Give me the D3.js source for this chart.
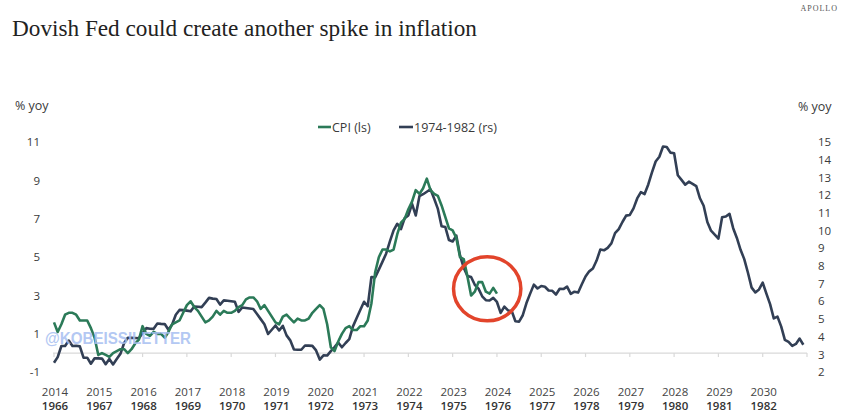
<!DOCTYPE html>
<html><head><meta charset="utf-8">
<script src="https://cdn.jsdelivr.net/npm/d3@7"></script>
<style>body{margin:0;background:#fff}svg{display:block}</style>
</head><body><svg id="c" width="848" height="419"></svg>
<script>
// ---- data ----
const title = "Dovish Fed could create another spike in inflation";
const brand = "APOLLO";
const cpiLabel = "CPI (ls)";
const rsLabel = "1974-1982 (rs)";
const axisUnit = "% yoy";
const watermark = "@KOBEISSILETTER";

// CPI yoy %, monthly from Jan 2014
const cpiStartYear = 2014;
const cpiValues = [
 1.6,1.1,1.5,2.0,2.1,2.1,2.0,1.7,1.7,1.7,1.3,0.8,
 -0.1,0.0,-0.1,-0.2,0.0,0.1,0.2,0.2,0.0,0.2,0.5,0.7,
 1.4,1.0,0.9,1.1,1.0,1.0,0.8,1.1,1.5,1.6,1.7,2.1,
 2.5,2.7,2.4,2.2,1.9,1.6,1.7,1.9,2.2,2.0,2.2,2.1,
 2.1,2.2,2.4,2.5,2.8,2.9,2.9,2.7,2.3,2.5,2.2,1.9,
 1.6,1.5,1.9,2.0,1.8,1.6,1.8,1.7,1.7,1.8,2.1,2.3,
 2.5,2.3,1.5,0.3,0.1,0.6,1.0,1.3,1.4,1.2,1.2,1.4,
 1.4,1.7,2.6,4.2,5.0,5.4,5.4,5.3,5.4,6.2,6.8,7.0,
 7.5,7.9,8.5,8.3,8.6,9.1,8.5,8.3,8.2,7.7,7.1,6.5,
 6.4,6.0,5.0,4.9,4.0,3.0,3.2,3.7,3.7,3.2,3.1,3.4,
 3.1
];
// 1966-1982 CPI yoy %, monthly from Jun 1966, plotted from Jan 2014
const rsStartYear = 2014;
const rsValues = [
 2.53,2.85,3.48,3.48,3.79,3.48,3.49,
 3.46,2.82,2.82,2.48,2.79,2.78,2.77,2.45,2.75,2.44,2.74,3.04,
 3.65,3.95,3.94,3.93,3.92,4.20,4.49,4.46,4.45,4.75,4.73,4.72,
 4.40,4.70,5.25,5.52,5.51,5.48,5.44,5.71,5.70,5.68,5.93,6.20,
 6.16,6.14,5.82,6.06,6.04,6.01,5.98,5.41,5.66,5.63,5.60,5.57,
 5.29,5.00,4.71,4.16,4.40,4.64,4.36,4.62,4.08,3.80,3.28,3.27,
 3.27,3.51,3.50,3.49,3.23,2.71,2.95,2.94,3.19,3.42,3.67,3.41,
 3.65,3.87,4.59,5.06,5.53,5.98,5.73,7.38,7.36,7.80,8.25,8.71,
 9.39,10.02,10.39,10.09,10.71,10.86,11.51,10.86,11.95,12.06,12.20,12.34,
 11.80,11.23,10.25,10.21,9.47,9.39,9.72,8.60,7.91,7.44,7.38,6.94,
 6.72,6.29,6.07,6.05,6.20,5.97,5.35,5.71,5.49,5.46,4.88,4.86,
 5.22,5.91,6.44,6.95,6.73,6.87,6.83,6.62,6.60,6.39,6.72,6.70,
 6.84,6.43,6.55,6.50,6.97,7.41,7.70,7.86,8.31,8.93,8.89,9.03,
 9.28,9.86,10.09,10.49,10.85,10.89,11.26,11.82,12.18,12.07,12.61,13.29,
 13.91,14.18,14.76,14.73,14.41,14.38,13.13,12.87,12.60,12.77,12.65,12.52,
 11.83,11.41,10.49,10.00,9.78,9.55,10.76,10.80,10.95,10.14,9.59,8.92,
 8.39,7.62,6.78,6.51,6.68,7.06,6.44,5.85,5.04,5.14,4.59,3.83,
 3.71,3.49,3.60,3.90,3.55
];
const leftTicks = [-1, 1, 3, 5, 7, 9, 11];
const rightTicks = [2,3,4,5,6,7,8,9,10,11,12,13,14,15];
const yearsTop = [2014,2015,2016,2017,2018,2019,2020,2021,2022,2023,2024,2025,2026,2027,2028,2029,2030];
const yearsBottom = [1966,1967,1968,1969,1970,1971,1972,1973,1974,1975,1976,1977,1978,1979,1980,1981,1982];
// highlight ellipse (data space): center date, center value (ls), radii
const highlight = {t: 2023.78, v: 3.35, rt: 0.76, rv: 1.67};

// ---- drawing ----
const svg = d3.select("#c");
const x = d3.scaleLinear().domain([2014, 2031]).range([54, 807]);
const yL = d3.scaleLinear().domain([-1, 11]).range([372.2, 142.2]);
const yR = d3.scaleLinear().domain([2, 15]).range([372.2, 142.2]);

const GREEN = "#2b7a58", NAVY = "#323f55", TXT = "#3a3a3a";
const SANS = "'Open Sans', sans-serif";

// title
const tt = svg.append("text").attr("x", 12).attr("y", 36)
  .attr("font-family", "'Liberation Serif', 'DejaVu Serif', serif")
  .attr("font-size", 25).attr("fill", "#222").text(title);
const tw = tt.node().getComputedTextLength();
tt.attr("font-size", 25 * 465 / tw);

svg.append("text").attr("x", 838).attr("y", 11).attr("text-anchor", "end")
  .attr("font-family", "'Liberation Serif', serif").attr("font-size", 8)
  .attr("letter-spacing", 1).attr("fill", "#555").text(brand);

// axis unit labels
svg.append("text").attr("x", 15).attr("y", 110).attr("font-family", SANS)
  .attr("font-size", 12.5).attr("fill", TXT).text(axisUnit);
svg.append("text").attr("x", 798).attr("y", 111).attr("font-family", SANS)
  .attr("font-size", 12.5).attr("fill", TXT).text(axisUnit);

// left ticks
svg.append("g").selectAll("text").data(leftTicks).join("text")
  .attr("x", 40).attr("y", d => yL(d) + 4).attr("text-anchor", "end")
  .attr("font-family", SANS).attr("font-size", 11.5).attr("fill", TXT)
  .text(d => d);
// right ticks
svg.append("g").selectAll("text").data(rightTicks).join("text")
  .attr("x", 818).attr("y", d => yR(d) + 4)
  .attr("font-family", SANS).attr("font-size", 11.5).attr("fill", TXT)
  .text(d => d);

// x axis line at 0 (ls)
const ax = svg.append("g").attr("stroke", "#d9d9d9").attr("stroke-width", 1.2);
ax.append("line").attr("x1", x(2014) - 1).attr("x2", x(2031)).attr("y1", yL(0)).attr("y2", yL(0));
ax.selectAll("line.t").data(d3.range(2014, 2032)).join("line").attr("class", "t")
  .attr("x1", d => x(d)).attr("x2", d => x(d)).attr("y1", yL(0)).attr("y2", yL(0) + 4);

// x labels
svg.append("g").selectAll("text").data(yearsTop).join("text")
  .attr("x", d => x(d) + 1).attr("y", 396).attr("text-anchor", "middle")
  .attr("font-family", SANS).attr("font-size", 11.5).attr("fill", "#444")
  .text(d => d);
svg.append("g").selectAll("text").data(yearsBottom).join("text")
  .attr("x", (d, i) => x(yearsTop[i]) + 1).attr("y", 410).attr("text-anchor", "middle")
  .attr("font-family", SANS).attr("font-size", 11.5).attr("font-weight", 600)
  .attr("fill", "#333").text(d => d);

// lines
const lineL = d3.line().x((d, i) => x(cpiStartYear + i / 12)).y(d => yL(d));
const lineR = d3.line().x((d, i) => x(rsStartYear + i / 12)).y(d => yR(d));
svg.append("path").datum(rsValues).attr("d", lineR).attr("fill", "none")
  .attr("stroke", NAVY).attr("stroke-width", 2.6).attr("stroke-linejoin", "round");
svg.append("path").datum(cpiValues).attr("d", lineL).attr("fill", "none")
  .attr("stroke", GREEN).attr("stroke-width", 2.6).attr("stroke-linejoin", "round");

// legend
const lg = svg.append("g").attr("font-family", SANS).attr("font-size", 12.5).attr("fill", TXT);
lg.append("line").attr("x1", 318).attr("x2", 331).attr("y1", 127).attr("y2", 127).attr("stroke", GREEN).attr("stroke-width", 2.6);
lg.append("text").attr("x", 332).attr("y", 131.5).text(cpiLabel);
lg.append("line").attr("x1", 399).attr("x2", 413).attr("y1", 127).attr("y2", 127).attr("stroke", NAVY).attr("stroke-width", 2.6);
lg.append("text").attr("x", 414).attr("y", 131.5).text(rsLabel);

// watermark
svg.append("text").attr("x", 45).attr("y", 344).attr("font-family", "'Liberation Sans', Arial, sans-serif")
  .attr("font-size", 16).attr("font-weight", 700).attr("fill", "#a7bff2").attr("opacity", 0.85)
  .attr("textLength", 146).attr("lengthAdjust", "spacingAndGlyphs").text(watermark);

// highlight ellipse
svg.append("ellipse").attr("cx", x(highlight.t)).attr("cy", yL(highlight.v))
  .attr("rx", x(highlight.t + highlight.rt) - x(highlight.t))
  .attr("ry", yL(highlight.v - highlight.rv) - yL(highlight.v))
  .attr("fill", "none").attr("stroke", "#e2442b").attr("stroke-width", 3.5);
</script></body></html>
